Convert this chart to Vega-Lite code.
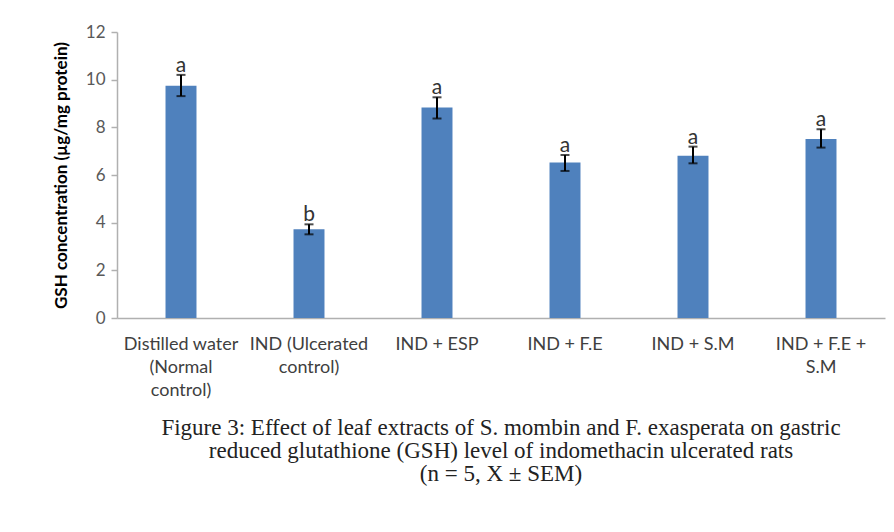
{
  "$schema": "https://vega.github.io/schema/vega-lite/v6.json",
  "autosize": {"type": "none"},
  "width": 768,
  "height": 286,
  "padding": {"left": 117, "top": 32, "right": 9, "bottom": 214},
  "background": "white",
  "config": {
    "view": {"stroke": null},
    "axis": {"labelFont": "Lato", "titleFont": "Lato"}
  },
  "title": {
    "text": ["Figure 3: Effect of leaf extracts of S. mombin and F. exasperata on gastric", "reduced glutathione (GSH) level of indomethacin ulcerated rats", "(n = 5, X ± SEM)"],
    "orient": "bottom",
    "anchor": "middle",
    "font": "Liberation Serif",
    "fontSize": 23,
    "fontWeight": "normal",
    "color": "#222222",
    "lineHeight": 23,
    "offset": 18
  },
  "data": {
    "values": [
      {"group": "Distilled water|(Normal|control)", "mean": 9.75, "lo": 9.31, "hi": 10.2, "letter": "a"},
      {"group": "IND (Ulcerated|control)", "mean": 3.72, "lo": 3.51, "hi": 3.93, "letter": "b"},
      {"group": "IND + ESP", "mean": 8.83, "lo": 8.37, "hi": 9.26, "letter": "a"},
      {"group": "IND + F.E", "mean": 6.52, "lo": 6.17, "hi": 6.84, "letter": "a"},
      {"group": "IND + S.M", "mean": 6.81, "lo": 6.49, "hi": 7.19, "letter": "a"},
      {"group": "IND + F.E +|S.M", "mean": 7.51, "lo": 7.15, "hi": 7.92, "letter": "a"}
    ]
  },
  "encoding": {
    "x": {
      "field": "group",
      "type": "nominal",
      "sort": null,
      "scale": {"paddingInner": 0.758, "paddingOuter": 0.379},
      "axis": {
        "title": null,
        "labelAngle": 0,
        "labelExpr": "split(datum.label, '|')",
        "labelFontSize": 18,
        "labelColor": "#404040",
        "labelLineHeight": 23,
        "labelPadding": 17,
        "ticks": false,
        "domainColor": "#b0b0b0",
        "domainWidth": 1.5,
        "labelLimit": 200
      }
    }
  },
  "layer": [
    {
      "mark": {"type": "bar", "color": "#4f81bd"},
      "encoding": {
        "y": {
          "field": "mean",
          "type": "quantitative",
          "scale": {"domain": [0, 12], "nice": false},
          "axis": {
            "title": "GSH concentration (µg/mg protein)",
            "titleFontSize": 17,
            "titleFontWeight": "bold",
            "titleColor": "#000000",
            "titlePadding": 15,
            "values": [0, 2, 4, 6, 8, 10, 12],
            "labelFontSize": 17,
            "labelColor": "#595959",
            "labelPadding": 6,
            "grid": false,
            "domainColor": "#b0b0b0",
            "domainWidth": 1.5,
            "tickColor": "#b0b0b0",
            "tickSize": 6,
            "tickWidth": 1.5
          }
        }
      }
    },
    {
      "mark": {"type": "rule", "color": "#000000", "strokeWidth": 2},
      "encoding": {
        "y": {"field": "lo", "type": "quantitative"},
        "y2": {"field": "hi"}
      }
    },
    {
      "mark": {"type": "tick", "color": "#000000", "thickness": 2, "size": 9},
      "encoding": {"y": {"field": "lo", "type": "quantitative"}}
    },
    {
      "mark": {"type": "tick", "color": "#000000", "thickness": 2, "size": 9},
      "encoding": {"y": {"field": "hi", "type": "quantitative"}}
    },
    {
      "mark": {"type": "text", "font": "Lato", "fontSize": 21, "color": "#333333", "baseline": "alphabetic", "dy": -3},
      "encoding": {
        "y": {"field": "hi", "type": "quantitative"},
        "text": {"field": "letter"}
      }
    }
  ]
}
